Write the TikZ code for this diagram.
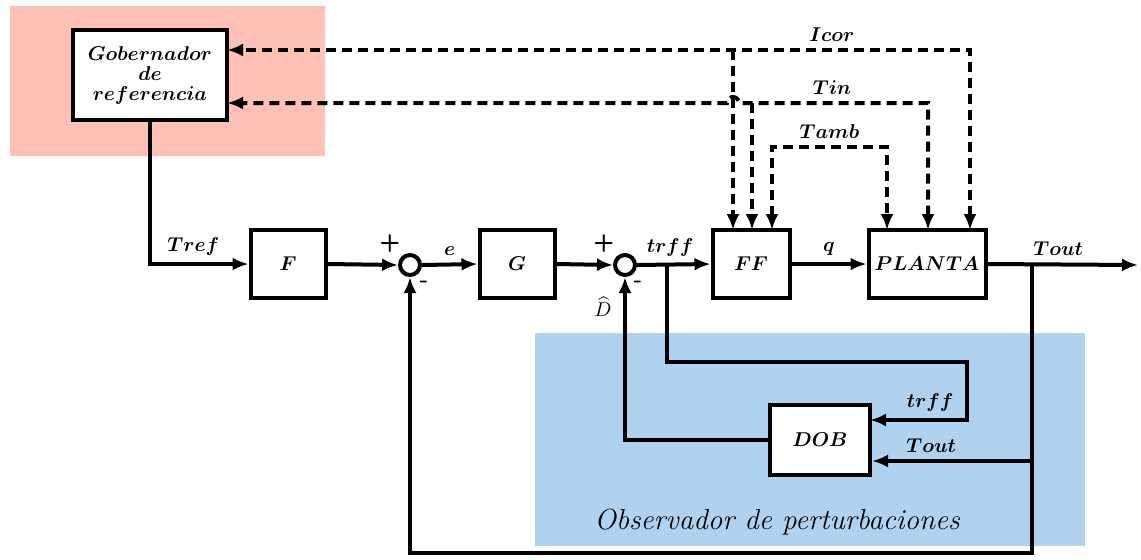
\documentclass[tikz,border=0pt]{standalone}
\usepackage{amsmath}
\usepackage{amssymb}
\usepackage{bm}
\usepackage{tikz}
\usetikzlibrary{arrows.meta,calc}

\definecolor{rosa}{RGB}{255,192,184}
\definecolor{celeste}{RGB}{175,211,238}

\tikzset{
  bloque/.style={draw, line width=2pt, fill=white, minimum width=37.5pt, minimum height=34pt, inner sep=0pt},
  suma/.style={draw, circle, line width=2pt, fill=white, minimum size=10pt, inner sep=0pt},
  senal/.style={line width=2pt, ->},
  medida/.style={line width=2pt, dash pattern=on 5pt off 3pt},
  signo/.style={font=\large\sffamily\bfseries, inner sep=0pt},
}

\begin{document}
\begin{tikzpicture}[x=0.5pt,y=-0.5pt,>={Latex[length=8pt,width=6.5pt]}]
\useasboundingbox (0,0) rectangle (1141,559);
% zonas de fondo
\fill [rosa] (10,6) rectangle (325,156);
\fill [celeste] (535,333) rectangle (1085,546);
\node at (777,522) {\fontsize{14.5}{17}\selectfont\itshape Observador de perturbaciones};

% bloques
\node [bloque, minimum width=77pt, minimum height=45pt, align=center] (gob) at (150,75) {$\bm{Gobernador}$\\[-2pt]$\bm{de}$\\[-2pt]$\bm{referencia}$};
\node [bloque] (F) at (288,264) {$\bm{F}$};
\node [suma] (s1) at (410,265) {};
\node [bloque] (G) at (517,264) {$\bm{G}$};
\node [suma] (s2) at (625,265) {};
\node [bloque, minimum width=38.5pt] (FF) at (751,264) {$\bm{FF}$};
\node [bloque, minimum width=58.5pt] (planta) at (927,264) {$\bm{PLANTA}$};
\node [bloque, minimum width=50pt, minimum height=35pt] (dob) at (820,440) {$\bm{DOB}$};

% signos de los sumadores
\node [signo] at (390,243) {+};
\node [signo] at (424,284) {-};
\node [signo] at (604,243) {+};
\node [signo] at (638,284) {-};
\node at (603,307) {$\widehat{D}$};

% puntos de paso
\coordinate (sal) at (1138,265);
\coordinate (rTout) at (1032,265);
\coordinate (fondo) at (1032,553);
\coordinate (dTout) at (1032,461);
\coordinate (rTrff) at (667,265);
\coordinate (codo) at (967,362);
\coordinate (dTrff) at (870,420);

% lazo principal
\draw [senal] (gob.south) |- node [pos=0.72, above] {$\bm{Tref}$} (F.west);
\draw [senal] (F.east) -- (s1.west);
\draw [senal] (s1.east) -- node [above] {$\bm{e}$} (G.west);
\draw [senal] (G.east) -- (s2.west);
\draw [senal] (s2.east) -- node [above, pos=0.45] {$\bm{trff}$} (FF.west);
\draw [senal] (FF.east) -- node [above] {$\bm{q}$} (planta.west);
\draw [senal] (planta.east) -- node [above, pos=0.47] {$\bm{Tout}$} (sal);
\draw [senal] (rTout) -- (fondo) -| (s1.south);

% observador
\draw [senal] (rTrff) |- (codo) |- node [pos=0.69, above] {$\bm{trff}$} (dTrff);
\draw [senal] (dTout) -- node [pos=0.63, above] {$\bm{Tout}$} (dob.east |- dTout);
\draw [senal] (dob.west) -| (s2.south);

% medidas
\coordinate (pIcor) at (970,230);
\coordinate (pTin) at (928,230);
\coordinate (pTamb) at (887,230);
\coordinate (fIcor) at (733,230);
\coordinate (fTin) at (752,230);
\coordinate (fTamb) at (772,230);
\coordinate (gIcor) at (227,50);
\coordinate (gTin) at (227,103);
\coordinate (nIcor) at (733,50);
\coordinate (nTin) at (752,103);
\coordinate (salto) at (739,103);
\coordinate (cTamb) at (772,147);

\draw [medida, <->] (pIcor) |- node [pos=0.593, above] {$\bm{Icor}$} (gIcor);
\draw [medida, ->] (nIcor) -- (fIcor);
\draw [medida, <->] (pTin) |- node [pos=0.754, above] {$\bm{Tin}$} (salto)
  arc [start angle=0, end angle=-180, radius=6] -- (gTin);
\draw [medida, ->] (nTin) -- (fTin);
\draw [medida, <->] (fTamb) -- (cTamb) -| node [pos=0.25, above] {$\bm{Tamb}$} (pTamb);
\end{tikzpicture}
\end{document}
